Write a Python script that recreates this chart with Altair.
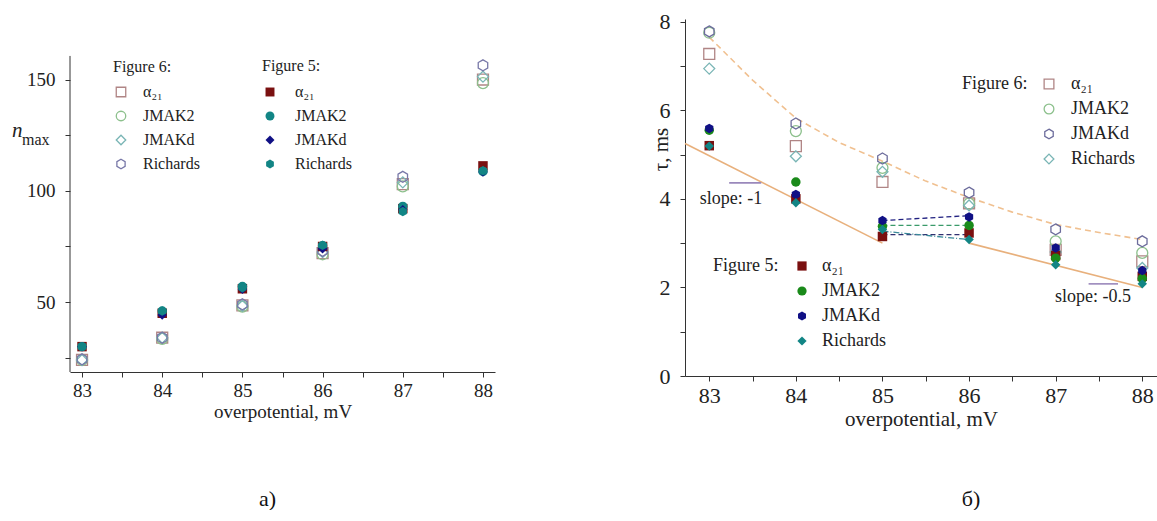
import altair as alt
import pandas as pd

# ---------------- data ----------------
x_mv = [83, 84, 85, 86, 87, 88]
series_names = ["α₂₁", "JMAK2", "JMAKd", "Richards"]

# panel a) n_max, Figure 6 (open symbols)
nmax6_alpha = [24.0, 34.0, 48.5, 72.0, 103.0, 150.0]
nmax6_jmak2 = [24.0, 33.5, 48.0, 71.5, 102.0, 148.4]
nmax6_jmakd = [24.0, 34.0, 48.3, 72.5, 103.8, 151.3]
nmax6_rich = [24.3, 34.0, 49.0, 73.0, 106.3, 156.4]
# panel a) n_max, Figure 5 (filled symbols)
nmax5_alpha = [30.0, 45.0, 56.0, 75.0, 92.0, 111.2]
nmax5_jmak2 = [30.0, 46.0, 57.0, 75.3, 93.0, 108.7]
nmax5_jmakd = [30.0, 44.2, 55.8, 74.0, 91.5, 108.5]
nmax5_rich = [30.0, 46.0, 56.5, 75.5, 90.7, 109.0]

# panel б) tau, Figure 6 (open symbols)
tau6_alpha = [7.27, 5.19, 4.38, 3.90, 2.85, 2.59]
tau6_jmak2 = [7.75, 5.53, 4.70, 3.89, 3.04, 2.78]
tau6_jmakd = [7.78, 5.70, 4.91, 4.14, 3.31, 3.04]
tau6_rich = [6.94, 4.96, 4.61, 3.85, 2.80, 2.44]
# panel б) tau, Figure 5 (filled symbols)
tau5_alpha = [5.20, 4.00, 3.15, 3.23, 2.72, 2.25]
tau5_jmak2 = [5.55, 4.38, 3.38, 3.40, 2.66, 2.20]
tau5_jmakd = [5.59, 4.10, 3.51, 3.59, 2.89, 2.38]
tau5_rich = [5.19, 3.91, 3.31, 3.08, 2.51, 2.08]

# dashed guide curve (upper)
guide_x = [83, 83.5, 84, 84.5, 85, 85.5, 86, 86.5, 87, 87.5, 88]
guide_y = [7.65, 6.68, 5.82, 5.27, 4.85, 4.40, 4.03, 3.70, 3.42, 3.24, 3.08]
# solid slope lines (lower)
slope1_x = [82.72, 85.0]
slope1_y = [5.25, 3.0]
slope2_x = [86.0, 88.0]
slope2_y = [3.0, 2.0]
# connector lines between 85 and 86 mV
conn_x = [85.0, 86.0]
conn_jmakd = [3.51, 3.62]
conn_jmak2 = [3.40, 3.40]
conn_alpha = [3.19, 3.19]
conn_rich = [3.27, 3.08]
# slope markers and labels
mark1_x = [83.23, 83.60]
mark1_y = 4.36
mark2_x = [87.38, 87.72]
mark2_y = 2.08
slope_labels = ["slope: -1", "slope: -0.5"]
slope_label_x = [83.25, 87.43]
slope_label_y = [4.0, 1.78]

SERIF = "Liberation Serif"
HEX = "M0,-1L0.866,-0.5L0.866,0.5L0,1L-0.866,0.5L-0.866,-0.5Z"


def long_df(values_list):
    rows = []
    for name, vals in zip(series_names, values_list):
        for xv, yv in zip(x_mv, vals):
            rows.append({"x": xv, "y": yv, "s": name})
    return pd.DataFrame(rows)


x_ticks = [83, 83.5, 84, 84.5, 85, 85.5, 86, 86.5, 87, 87.5, 88]
X_LABELS = "datum.value % 1 == 0 ? format(datum.value, 'd') : ''"

# ---------------- panel a ----------------
A_W, A_H = 425, 353
a_x = alt.X("x:Q", scale=alt.Scale(domain=[82.85, 88.15], nice=False, zero=False),
            axis=alt.Axis(title="overpotential, mV", values=x_ticks, labelExpr=X_LABELS,
                          grid=False, tickSize=5, labelPadding=4, titlePadding=2,
                          labelFont=SERIF, labelFontSize=19, titleFont=SERIF,
                          titleFontSize=19, titleFontWeight="normal",
                          domainColor="#333", tickColor="#333", labelColor="#222",
                          titleColor="#222"))
a_y = alt.Y("y:Q", scale=alt.Scale(domain=[18.6, 177.2], nice=False, zero=False),
            axis=alt.Axis(title=None, values=[25, 50, 75, 100, 125, 150],
                          labelExpr="datum.value % 50 == 0 ? format(datum.value, 'd') : ''",
                          grid=False, domain=False, tickSize=5, labelPadding=10,
                          labelFont=SERIF, labelFontSize=19, tickColor="#333",
                          labelColor="#222"))

leg_common = dict(orient="none", padding=0, titleFont=SERIF, titleFontWeight="normal",
                  titleColor="#222", labelFont=SERIF, labelColor="#222",
                  symbolStrokeWidth=1.3)

a_leg6 = alt.Legend(title="Figure 6:", legendX=43, legendY=40, titleFontSize=16,
                    labelFontSize=16, symbolSize=90, labelOffset=14, rowPadding=8,
                    titlePadding=9, **leg_common)
a_leg5 = alt.Legend(title="Figure 5:", legendX=192, legendY=39, titleFontSize=16,
                    labelFontSize=16, symbolSize=80, labelOffset=17, rowPadding=8,
                    titlePadding=10, **leg_common)

a6 = alt.Chart(long_df([nmax6_alpha, nmax6_jmak2, nmax6_jmakd, nmax6_rich])).mark_point(
    filled=False, size=120, strokeWidth=1.3, opacity=1).encode(
    x=a_x, y=a_y,
    color=alt.Color("s:N", scale=alt.Scale(domain=series_names,
                    range=["#b08585", "#8cc08c", "#79b5b5", "#7878a8"]), legend=a_leg6),
    shape=alt.Shape("s:N", scale=alt.Scale(domain=series_names,
                    range=["square", "circle", "diamond", HEX]), legend=a_leg6))
a5 = alt.Chart(long_df([nmax5_alpha, nmax5_jmak2, nmax5_jmakd, nmax5_rich])).mark_point(
    filled=True, size=90, opacity=1).encode(
    x=a_x, y=a_y,
    color=alt.Color("s:N", scale=alt.Scale(domain=series_names,
                    range=["#7a1010", "#128585", "#101085", "#128585"]), legend=a_leg5),
    shape=alt.Shape("s:N", scale=alt.Scale(domain=series_names,
                    range=["square", "circle", "diamond", HEX]), legend=a_leg5))

a_axisline = alt.Chart(pd.DataFrame({"lo": [18.6], "hi": [160.6]})).mark_rule(
    color="#333", strokeWidth=1).encode(x=alt.value(0), y=alt.Y("lo:Q"), y2="hi:Q")

lab_df = pd.DataFrame({"t": ["n"]})
a_n = alt.Chart(lab_df).mark_text(text="n", font=SERIF, fontSize=21, fontStyle="italic",
                                  align="left", baseline="alphabetic", color="#222").encode(
    x=alt.value(-58), y=alt.value(118))
a_max = alt.Chart(lab_df).mark_text(text="max", font=SERIF, fontSize=16, align="left",
                                    baseline="alphabetic", color="#222").encode(
    x=alt.value(-48), y=alt.value(126))

panel_a = alt.layer(a_axisline, a6, a5, a_n, a_max).resolve_scale(
    color="independent", shape="independent").properties(
    width=A_W, height=A_H,
    title=alt.TitleParams("а)", orient="bottom", anchor="middle", dx=-15, offset=68,
                          font=SERIF, fontSize=22, fontWeight="normal", color="#111"))

# ---------------- panel б ----------------
B_W, B_H = 472, 357
b_x = alt.X("x:Q", scale=alt.Scale(domain=[82.72, 88.17], nice=False, zero=False),
            axis=alt.Axis(title="overpotential, mV", values=x_ticks, labelExpr=X_LABELS,
                          grid=False, tickSize=5, labelPadding=4, titlePadding=2,
                          labelFont=SERIF, labelFontSize=22, titleFont=SERIF,
                          titleFontSize=21, titleFontWeight="normal",
                          domainColor="#333", tickColor="#333", labelColor="#222",
                          titleColor="#222"))
b_y = alt.Y("y:Q", scale=alt.Scale(domain=[0, 8.06], nice=False, zero=False),
            axis=alt.Axis(title="τ, ms", values=[0, 1, 2, 3, 4, 5, 6, 7, 8],
                          labelExpr="datum.value % 2 == 0 ? format(datum.value, 'd') : ''",
                          grid=False, tickSize=5, labelPadding=10,
                          labelFont=SERIF, labelFontSize=22, titleFont=SERIF,
                          titleFontSize=21, titleFontWeight="normal", titleAngle=270,
                          titleX=-24, titleY=130, titleAlign="center",
                          titleBaseline="middle",
                          domainColor="#333", tickColor="#333", labelColor="#222",
                          titleColor="#222"))

b_leg6 = alt.Legend(title="Figure 6:", legendX=277, legendY=56, titleOrient="left",
                    titleAnchor="start", titleFontSize=18, labelFontSize=18,
                    symbolSize=95, labelOffset=13, rowPadding=7, titlePadding=12,
                    titleBaseline="top", **leg_common)
b_leg5 = alt.Legend(title="Figure 5:", legendX=28, legendY=238, titleOrient="left",
                    titleAnchor="start", titleFontSize=18, labelFontSize=18,
                    symbolSize=85, labelOffset=11, rowPadding=7, titlePadding=14,
                    titleBaseline="top", **leg_common)

guide = alt.Chart(pd.DataFrame({"x": guide_x, "y": guide_y})).mark_line(
    color="#f0c090", strokeDash=[6, 4], strokeWidth=1.6).encode(x=b_x, y=b_y)
solid = alt.Chart(pd.DataFrame({"x": slope1_x + slope2_x, "y": slope1_y + slope2_y,
                                "g": ["a", "a", "b", "b"]})).mark_line(
    color="#e8b07c", strokeWidth=1.6).encode(x=b_x, y=b_y, detail="g:N")

conn_layers = []
for vals, col, dash in [(conn_jmakd, "#202080", [5, 3]), (conn_jmak2, "#3a9a6a", [5, 3]),
                        (conn_alpha, "#303070", [5, 3]), (conn_rich, "#3a8a9a", [6, 2, 1, 2])]:
    conn_layers.append(alt.Chart(pd.DataFrame({"x": conn_x, "y": vals})).mark_line(
        color=col, strokeDash=dash, strokeWidth=1.3).encode(x=b_x, y=b_y))

marks = alt.Chart(pd.DataFrame({"x": [mark1_x[0], mark2_x[0]], "x2": [mark1_x[1], mark2_x[1]],
                                "y": [mark1_y, mark2_y]})).mark_rule(
    color="#9a88bb", strokeWidth=1.6).encode(x=b_x, x2="x2:Q", y=b_y)
slope_text = alt.Chart(pd.DataFrame({"x": slope_label_x, "y": slope_label_y,
                                     "t": slope_labels})).mark_text(
    font=SERIF, fontSize=18, color="#222", align="center", baseline="middle").encode(
    x=b_x, y=b_y, text="t:N")

b6 = alt.Chart(long_df([tau6_alpha, tau6_jmak2, tau6_jmakd, tau6_rich])).mark_point(
    filled=False, size=120, strokeWidth=1.3, opacity=1).encode(
    x=b_x, y=b_y,
    color=alt.Color("s:N", scale=alt.Scale(domain=series_names,
                    range=["#b08585", "#8cc08c", "#6c6c9c", "#79b5b5"]), legend=b_leg6),
    shape=alt.Shape("s:N", scale=alt.Scale(domain=series_names,
                    range=["square", "circle", HEX, "diamond"]), legend=b_leg6))
b5 = alt.Chart(long_df([tau5_alpha, tau5_jmak2, tau5_jmakd, tau5_rich])).mark_point(
    filled=True, size=90, opacity=1).encode(
    x=b_x, y=b_y,
    color=alt.Color("s:N", scale=alt.Scale(domain=series_names,
                    range=["#7a1010", "#1a8a1a", "#101085", "#128585"]), legend=b_leg5),
    shape=alt.Shape("s:N", scale=alt.Scale(domain=series_names,
                    range=["square", "circle", HEX, "diamond"]), legend=b_leg5))

panel_b = alt.layer(guide, solid, *conn_layers, marks, slope_text, b6, b5).resolve_scale(
    color="independent", shape="independent").properties(
    width=B_W, height=B_H,
    title=alt.TitleParams("б)", orient="bottom", anchor="middle", dx=50, offset=60,
                          font=SERIF, fontSize=22, fontWeight="normal", color="#111"))

chart = alt.hconcat(panel_a, panel_b, spacing=155).properties(
    padding={"left": 12, "top": 10, "right": 0, "bottom": 0},
    background="white").configure_view(stroke=None)

chart.save("out.html", embed_options={"renderer": "svg", "actions": False})
